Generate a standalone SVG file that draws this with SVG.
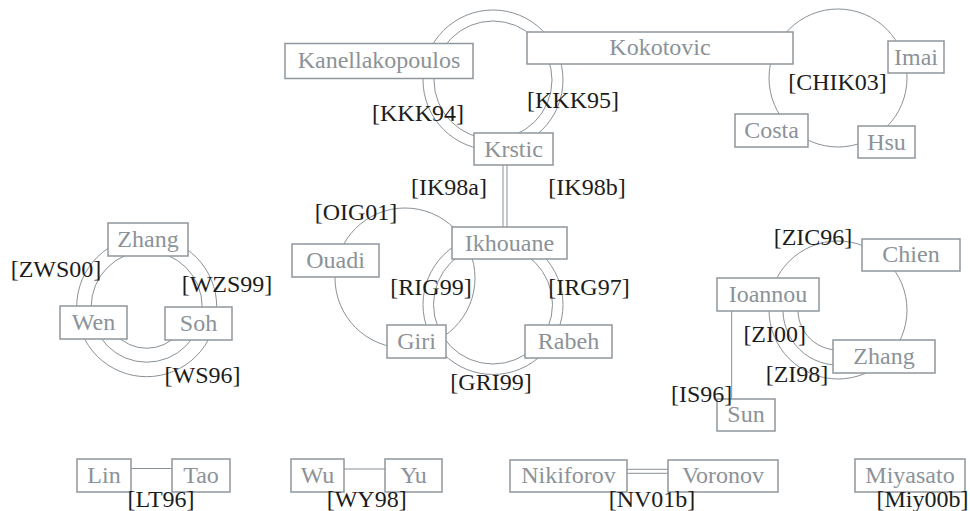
<svg xmlns="http://www.w3.org/2000/svg" width="970" height="511" viewBox="0 0 970 511" font-family="'Liberation Serif', 'DejaVu Serif', 'Times New Roman', Times, serif">
  <style>
    .node rect { fill: #ffffff; stroke: #8f969c; stroke-width: 1.5; }
    .node text { font-family: 'Liberation Serif', 'DejaVu Serif', 'Times New Roman', Times, serif; font-size: 24px; fill: #8b9298; text-anchor: middle; }
    .edge { fill: none; stroke: #8a9197; stroke-width: 1; }
    .lbl { font-family: 'Liberation Serif', 'DejaVu Serif', 'Times New Roman', Times, serif; font-size: 24px; fill: #1c1c1c; text-anchor: middle; }
  </style>
  <rect width="970" height="511" fill="#ffffff"/>

  <!-- paper connectors: one circle or arc per joint paper, plain lines for pairs -->
  <g id="connectors">
    <circle id="e-KKK94" class="edge" cx="493" cy="80" r="70"/>
    <circle id="e-KKK95" class="edge" cx="493" cy="80" r="59"/>
    <circle id="e-CHIK03" class="edge" cx="838" cy="78" r="69"/>
    <line id="e-IK98a" class="edge" x1="503" y1="165" x2="503" y2="227"/>
    <line id="e-IK98b" class="edge" x1="507" y1="165" x2="507" y2="227"/>
    <circle id="e-OIG01" class="edge" cx="405" cy="278" r="70"/>
    <circle id="e-RIG99" class="edge" cx="493" cy="304.5" r="59.5"/>
    <circle id="e-IRG97" class="edge" cx="493" cy="304.5" r="70"/>
    <circle id="e-ZWS00" class="edge" cx="146.7" cy="306.7" r="70"/>
    <circle id="e-WZS99" class="edge" cx="146.7" cy="306.7" r="55.5"/>
    <path id="e-WS96" class="edge" d="M115,333.6 A41.6,41.6 0 0,0 178.4,333.6"/>
    <circle id="e-ZIC96" class="edge" cx="838" cy="310" r="69"/>
    <path id="e-ZI00" class="edge" d="M798.3,305 A40,40 0 0,0 845,349.4"/>
    <path id="e-ZI98" class="edge" d="M783.2,305 A55,55 0 0,0 845,364.6"/>
    <line id="e-IS96" class="edge" x1="731.7" y1="311" x2="731.7" y2="399"/>
    <line id="e-LT96" class="edge" x1="131" y1="468.5" x2="172" y2="468.5"/>
    <line id="e-WY98" class="edge" x1="344" y1="469" x2="385" y2="469"/>
    <line id="e-NV01b-1" class="edge" x1="627" y1="469.3" x2="668" y2="469.3"/>
    <line id="e-NV01b-2" class="edge" x1="627" y1="473.3" x2="668" y2="473.3"/>
  </g>

  <!-- author nodes -->
  <g id="n-Kanellakopoulos" class="node"><rect x="285" y="43.5" width="188" height="35"/><text x="379" y="67.5">Kanellakopoulos</text></g>
  <g id="n-Kokotovic" class="node"><rect x="527" y="32" width="266" height="32"/><text x="660" y="55">Kokotovic</text></g>
  <g id="n-Imai" class="node"><rect x="888" y="41" width="56" height="32"/><text x="916" y="65">Imai</text></g>
  <g id="n-Costa" class="node"><rect x="735" y="114" width="73" height="33"/><text x="771.5" y="138">Costa</text></g>
  <g id="n-Hsu" class="node"><rect x="858" y="126" width="57" height="32"/><text x="886.5" y="150">Hsu</text></g>
  <g id="n-Krstic" class="node"><rect x="474" y="133" width="79" height="32"/><text x="513.5" y="157">Krstic</text></g>
  <g id="n-Ikhouane" class="node"><rect x="452" y="227" width="115" height="32"/><text x="509.5" y="251">Ikhouane</text></g>
  <g id="n-Ouadi" class="node"><rect x="292" y="244" width="87" height="33"/><text x="335.5" y="268">Ouadi</text></g>
  <g id="n-Giri" class="node"><rect x="387" y="325" width="59" height="33"/><text x="416.5" y="349">Giri</text></g>
  <g id="n-Rabeh" class="node"><rect x="525" y="325" width="87" height="33"/><text x="568.5" y="349">Rabeh</text></g>
  <g id="n-Zhang-1" class="node"><rect x="108" y="223" width="80" height="33"/><text x="148" y="247">Zhang</text></g>
  <g id="n-Wen" class="node"><rect x="60" y="306" width="67" height="33"/><text x="93.5" y="330">Wen</text></g>
  <g id="n-Soh" class="node"><rect x="165" y="307" width="67" height="33"/><text x="198.5" y="331">Soh</text></g>
  <g id="n-Ioannou" class="node"><rect x="717" y="278" width="102" height="33"/><text x="768" y="302">Ioannou</text></g>
  <g id="n-Chien" class="node"><rect x="862" y="239" width="98" height="32"/><text x="911" y="262">Chien</text></g>
  <g id="n-Zhang-2" class="node"><rect x="833" y="340" width="102" height="33"/><text x="884" y="364">Zhang</text></g>
  <g id="n-Sun" class="node"><rect x="717" y="399" width="58" height="32"/><text x="746" y="422">Sun</text></g>
  <g id="n-Lin" class="node"><rect x="77" y="459" width="54" height="33"/><text x="104" y="483">Lin</text></g>
  <g id="n-Tao" class="node"><rect x="172" y="459" width="58" height="33"/><text x="201" y="483">Tao</text></g>
  <g id="n-Wu" class="node"><rect x="291" y="459" width="53" height="33"/><text x="317.5" y="483">Wu</text></g>
  <g id="n-Yu" class="node"><rect x="385" y="459" width="57" height="33"/><text x="413.5" y="483">Yu</text></g>
  <g id="n-Nikiforov" class="node"><rect x="510" y="460" width="117" height="32"/><text x="568.5" y="483">Nikiforov</text></g>
  <g id="n-Voronov" class="node"><rect x="668" y="460" width="110" height="32"/><text x="723" y="483">Voronov</text></g>
  <g id="n-Miyasato" class="node"><rect x="855" y="459" width="110" height="33"/><text x="910" y="483">Miyasato</text></g>

  <!-- paper labels -->
  <g id="labels">
    <text class="lbl" x="418" y="121">[KKK94]</text>
    <text class="lbl" x="573" y="108">[KKK95]</text>
    <text class="lbl" x="837.5" y="90">[CHIK03]</text>
    <text class="lbl" x="449" y="195">[IK98a]</text>
    <text class="lbl" x="587" y="195">[IK98b]</text>
    <text class="lbl" x="356" y="220">[OIG01]</text>
    <text class="lbl" x="431" y="295">[RIG99]</text>
    <text class="lbl" x="589" y="295">[IRG97]</text>
    <text class="lbl" x="491" y="390">[GRI99]</text>
    <text class="lbl" x="56" y="277">[ZWS00]</text>
    <text class="lbl" x="227" y="292">[WZS99]</text>
    <text class="lbl" x="202.5" y="383">[WS96]</text>
    <text class="lbl" x="813" y="245">[ZIC96]</text>
    <text class="lbl" x="774.7" y="342">[ZI00]</text>
    <text class="lbl" x="797" y="382">[ZI98]</text>
    <text class="lbl" x="701.7" y="402">[IS96]</text>
    <text class="lbl" x="161" y="507">[LT96]</text>
    <text class="lbl" x="366.7" y="507">[WY98]</text>
    <text class="lbl" x="652" y="507">[NV01b]</text>
    <text class="lbl" x="922.5" y="507">[Miy00b]</text>
  </g>
</svg>
